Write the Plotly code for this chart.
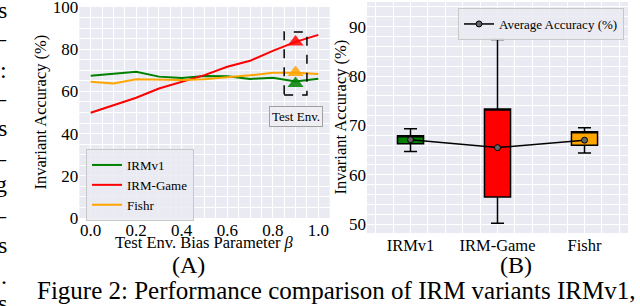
import plotly.graph_objects as go

# ---------------- data ----------------
beta = [0.0, 0.1, 0.2, 0.3, 0.4, 0.5, 0.6, 0.7, 0.8, 0.9, 1.0]
irmv1 = [67.4, 68.4, 69.3, 67.0, 66.4, 67.3, 67.2, 65.9, 66.5, 64.7, 66.0]
irm_game = [49.9, 53.5, 57.0, 61.4, 64.6, 67.7, 71.7, 74.5, 79.2, 83.5, 86.8]
fishr = [64.6, 63.8, 65.7, 65.4, 65.4, 65.7, 66.6, 67.6, 68.8, 68.8, 68.2]
series_names = ["IRMv1", "IRM-Game", "Fishr"]
series_colors = ["#008000", "#FF0000", "#FFA500"]

test_beta = 0.9
test_vals = [63.7, 83.4, 68.9]

categories = ["IRMv1", "IRM-Game", "Fishr"]
box_lower = [64.7, 50.2, 64.4]
box_q1 = [66.3, 55.5, 66.0]
box_q3 = [67.9, 73.3, 68.7]
box_upper = [69.3, 87.4, 69.5]
box_mean = [67.1, 65.5, 67.0]

left_ticks_x = ["0.0", "0.2", "0.4", "0.6", "0.8", "1.0"]

W, H = 640, 306
FONT = "Liberation Serif"
BG = "#EAEAF2"


def px_x(p):
    return p / W


def px_y(p):
    return 1 - p / H


fig = go.Figure()

# ---- left panel lines ----
for name, vals, col in zip(series_names, [irmv1, irm_game, fishr], series_colors):
    fig.add_trace(go.Scatter(x=beta, y=vals, mode="lines", name=name,
                             line=dict(color=col, width=2),
                             xaxis="x", yaxis="y", legend="legend"))
# test env triangles
for name, v, col in zip(series_names, test_vals, series_colors):
    fig.add_trace(go.Scatter(x=[test_beta], y=[v], mode="markers", showlegend=False,
                             marker=dict(symbol="triangle-up", size=14, color=col,
                                         opacity=0.85, line=dict(width=0)),
                             xaxis="x", yaxis="y"))

# ---- right panel boxes ----
for i, (name, col) in enumerate(zip(categories, series_colors)):
    fig.add_trace(go.Box(x=[i], q1=[box_q1[i]], median=[box_q3[i]], q3=[box_q3[i]],
                         lowerfence=[box_lower[i]], upperfence=[box_upper[i]],
                         fillcolor=col, line=dict(color="black", width=1.5),
                         width=0.3, whiskerwidth=0.5, boxpoints=False,
                         showlegend=False, xaxis="x2", yaxis="y2", name=name))
fig.add_trace(go.Scatter(x=list(range(len(categories))), y=box_mean, mode="lines+markers",
                         name="Average Accuracy (%)",
                         line=dict(color="black", width=1.5),
                         marker=dict(symbol="circle", size=6, color="#666666",
                                     line=dict(color="black", width=1)),
                         xaxis="x2", yaxis="y2", legend="legend2"))

grid_major = dict(showgrid=True, gridcolor="white", gridwidth=1.3, zeroline=False,
                  showline=False, ticks="", automargin=False, ticklabeloverflow="allow")
tickfont = dict(family=FONT, size=17, color="black")

fig.update_layout(
    width=W, height=H, autosize=False,
    margin=dict(l=0, r=0, t=0, b=0, pad=0),
    paper_bgcolor="white", plot_bgcolor=BG,
    font=dict(family=FONT, color="black"),
    xaxis=dict(domain=[px_x(79.3), px_x(329.7)], range=[-0.05, 1.05],
               tickvals=[float(t) for t in left_ticks_x], ticktext=left_ticks_x,
               tickfont=tickfont, anchor="y",
               minor=dict(tickmode="linear", tick0=0, dtick=0.05, showgrid=True,
                          gridcolor="white", gridwidth=0.6),
               **grid_major),
    yaxis=dict(domain=[px_y(218), px_y(7)], range=[0, 100], dtick=20, tick0=0,
               tickfont=tickfont, anchor="x",
               minor=dict(tickmode="linear", tick0=0, dtick=5, showgrid=True,
                          gridcolor="white", gridwidth=0.6),
               **grid_major),
    xaxis2=dict(domain=[px_x(367), px_x(628)], range=[-0.5, 2.5],
                tickvals=list(range(len(categories))), ticktext=categories,
                tickfont=dict(family=FONT, size=16.5, color="black"), anchor="y2",
                minor=dict(tickmode="linear", tick0=0, dtick=0.2, showgrid=True,
                           gridcolor="white", gridwidth=0.6),
                **grid_major),
    yaxis2=dict(domain=[px_y(233), px_y(2)], range=[48.2, 95], dtick=10, tick0=50,
                tickfont=tickfont, anchor="x2",
                minor=dict(tickmode="linear", tick0=0, dtick=2, showgrid=True,
                           gridcolor="white", gridwidth=0.6),
                **grid_major),
    legend=dict(x=px_x(86), y=px_y(149), xanchor="left", yanchor="top",
                bgcolor="rgba(234,234,242,0.85)", bordercolor="#C8C8C8", borderwidth=1,
                font=dict(family=FONT, size=13, color="black"), itemwidth=30),
    legend2=dict(x=px_x(458), y=px_y(8), xanchor="left", yanchor="top",
                 bgcolor="rgba(234,234,242,0.85)", bordercolor="#C8C8C8", borderwidth=1,
                 font=dict(family=FONT, size=13, color="black"), itemwidth=30),
    showlegend=True,
)

# dashed test-environment box
fig.add_shape(type="rect", xref="x", yref="y",
              x0=test_beta - 0.05, x1=test_beta + 0.05,
              y0=min(test_vals) - 5.4, y1=max(test_vals) + 4.8,
              line=dict(color="black", width=1.5, dash="dash"))
fig.add_annotation(xref="x", yref="y", x=test_beta, y=48, text="Test Env.",
                   xanchor="center", yanchor="middle",
                   showarrow=False, font=dict(family=FONT, size=13, color="black"),
                   bgcolor="#EEEEF3", bordercolor="#A0A0A0", borderwidth=1, borderpad=2)


def label(x, y, text, size, xanchor="center", angle=0):
    fig.add_annotation(xref="paper", yref="paper", x=px_x(x), y=px_y(y), text=text,
                       xanchor=xanchor, yanchor="middle", textangle=angle,
                       showarrow=False, font=dict(family=FONT, size=size, color="black"))


# axis titles
label(40, 112.5, "Invariant Accuracy (%)", 16.5, angle=-90)
label(340, 117.5, "Invariant Accuracy (%)", 16.5, angle=-90)
label(204.5, 242, "Test Env. Bias Parameter <i>β</i>", 16.5)

# panel labels and caption
label(188, 265, "(A)", 24)
label(516, 265, "(B)", 24)
label(35, 290, "Figure 2: Performance comparison of IRM variants IRMv1,", 25, xanchor="left")

# fragments of the neighbouring text column at the left edge
edge_chars = ["s", "–", ":", "–", "s", "–", "g", "–", "s", ".", "s"]
edge_y = [10, 38, 70, 98, 128, 158, 184, 215, 245, 276, 303]
for ch, yy in zip(edge_chars, edge_y):
    label(9, yy, ch, 24, xanchor="right")

fig.write_html("out.html", config={"displayModeBar": False},
               post_script="document.body.style.margin='0px';")
